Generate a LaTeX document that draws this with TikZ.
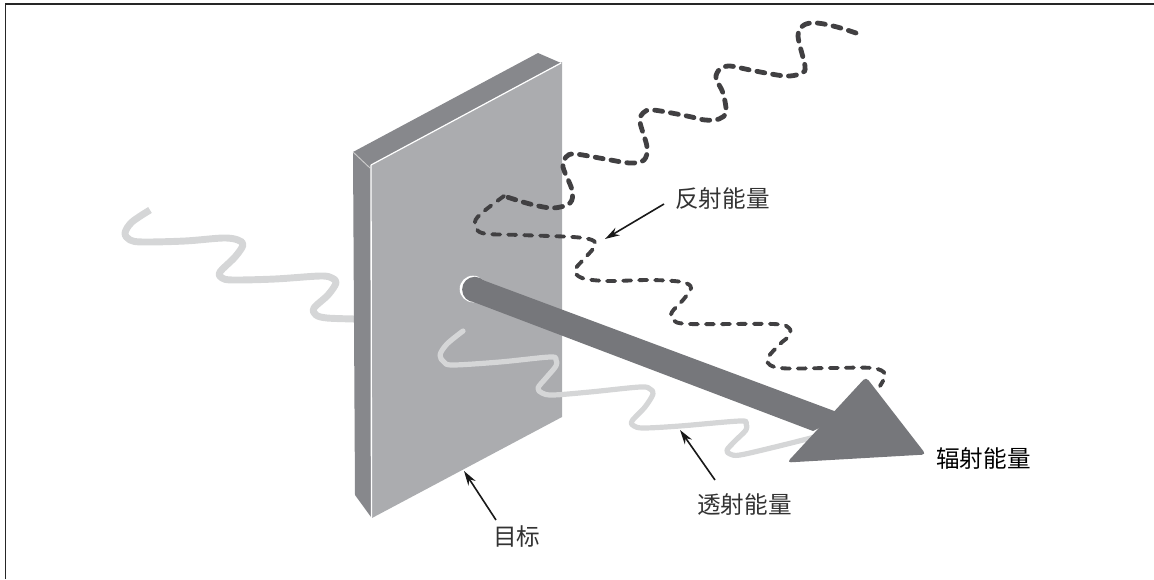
\documentclass[tikz,border=0pt]{standalone}
\usepackage{fontspec}
\newfontfamily\cjk{Noto Sans CJK SC}
\usetikzlibrary{arrows.meta}
\definecolor{facecol}{HTML}{ABACAF}
\definecolor{sidecol}{HTML}{87888C}
\definecolor{beamcol}{HTML}{76777B}
\definecolor{wavecol}{HTML}{D5D6D7}
\definecolor{dashcol}{HTML}{414042}
\tikzset{
  x=0.75pt,y=-0.75pt,
  wave/.style={draw=wavecol,line width=3.9pt,line cap=round,line join=round},
  thickwave/.style={draw=wavecol,line width=5.2pt,line cap=butt,line join=round},
  thickdash/.style={draw=dashcol,line width=3.6pt,line cap=round,dash pattern=on 6pt off 6pt},
  thindash/.style={draw=dashcol,line width=2.9pt,line cap=round,dash pattern=on 6pt off 6pt},
  lbl/.style={font=\cjk\fontsize{17.7pt}{20pt}\selectfont,text=black!80,inner sep=0pt},
  pointer/.style={draw=black!90,line width=1.2pt,-{Stealth[length=11pt,width=6.5pt]}}
}
\begin{document}
\begin{tikzpicture}
\useasboundingbox (0,0) rectangle (1154,579);
\draw[black!85,line width=1.3pt] (5.5,579) -- (5.5,4) -- (1154,4);
% entry wave behind the slab
\draw[thickwave] plot[smooth,tension=0.55] coordinates {(150,210) (132,222) (125,233) (130,240) (143,242) (185,241) (223,238) (238,240) (243,245) (235,257) (220,272) (222,278) (233,280) (275,279) (320,276) (332,278) (336,283) (328,295) (314,308) (316,315) (327,318) (355,319)};
\fill[wavecol] (355,315.5) rectangle (372,322.5);
% slab
\fill[sidecol] (353,152) -- (538,53) -- (561,63) -- (371,165) -- (371,517) -- (355,495) -- cycle;
\fill[facecol] (371,165) -- (562,62) -- (562,417) -- (372,518) -- cycle;
\draw[black!20,line width=0.7pt] (353,152) -- (370,168);
\draw[white,line width=0.9pt] (371,165) -- (561,63);
\draw[white,line width=1pt] (371,165) -- (371.5,517);
% transmitted wave
\draw[wave] plot[smooth,tension=0.55] coordinates {(463,331) (447,344) (440,355) (444,362) (453,365) (500,362) (550,357) (556,360) (556,366) (546,378) (538,388) (542,393) (553,395) (590,392) (640,387) (650,389) (653,394) (645,407) (632,421) (634,426) (644,428) (680,426) (740,421) (746,424) (746,430) (735,441) (727,450) (730,454) (740,455) (775,447) (815,437)};
% reflected wave
\draw[thickdash] plot[smooth,tension=0.55] coordinates {(856,33) (837,27) (817,23) (804,25) (798,36) (805,66) (802,73) (790,76) (777,75) (750,70) (730,66) (720,69) (716,78) (723,93) (726,112) (719,119) (705,120) (687,116) (653,110) (643,113) (640,122) (647,147) (644,160) (630,163) (605,159) (575,154) (566,157) (563,167) (572,190) (570,203) (553,208) (530,204) (504,196)};
\draw[thindash] plot[smooth,tension=0.55] coordinates {(504,196) (483,212) (475,222) (482,233) (520,235) (573,237) (592,240) (595,246) (585,258) (575,270) (582,278) (607,281) (650,280) (682,282) (691,288) (683,300) (672,312) (673,320) (690,324) (773,324) (789,328) (789,336) (780,344) (767,360) (780,368) (830,368) (872,368) (885,374) (880,386)};
% beam
\fill[white] (473,289) circle[radius=13.3];
\fill[beamcol,rounded corners=3pt] (787,462.5) -- (866,377) -- (926,454.5) -- cycle;
\fill[beamcol] (474,276.8) -- (845,415) -- (813,431) -- (474,302.2) -- cycle;
\fill[beamcol] (474.8,289.5) circle[radius=12.7];
% labels
\node[lbl,anchor=west] (refl) at (675,199) {反射能量};
\node[lbl,anchor=west,text=black] (rad) at (936,459) {辐射能量};
\node[lbl,anchor=west] (trans) at (697,505) {透射能量};
\node[lbl,anchor=west] (tgt) at (493,537) {目标};
\coordinate (reflA) at (664,204);
\coordinate (reflB) at (605,239);
\coordinate (transA) at (715,480);
\coordinate (transB) at (680,430);
\coordinate (tgtA) at (496,520);
\coordinate (tgtB) at (464,471);
\draw[pointer] (reflA) -- (reflB);
\draw[pointer] (transA) -- (transB);
\draw[pointer] (tgtA) -- (tgtB);
\end{tikzpicture}
\end{document}
